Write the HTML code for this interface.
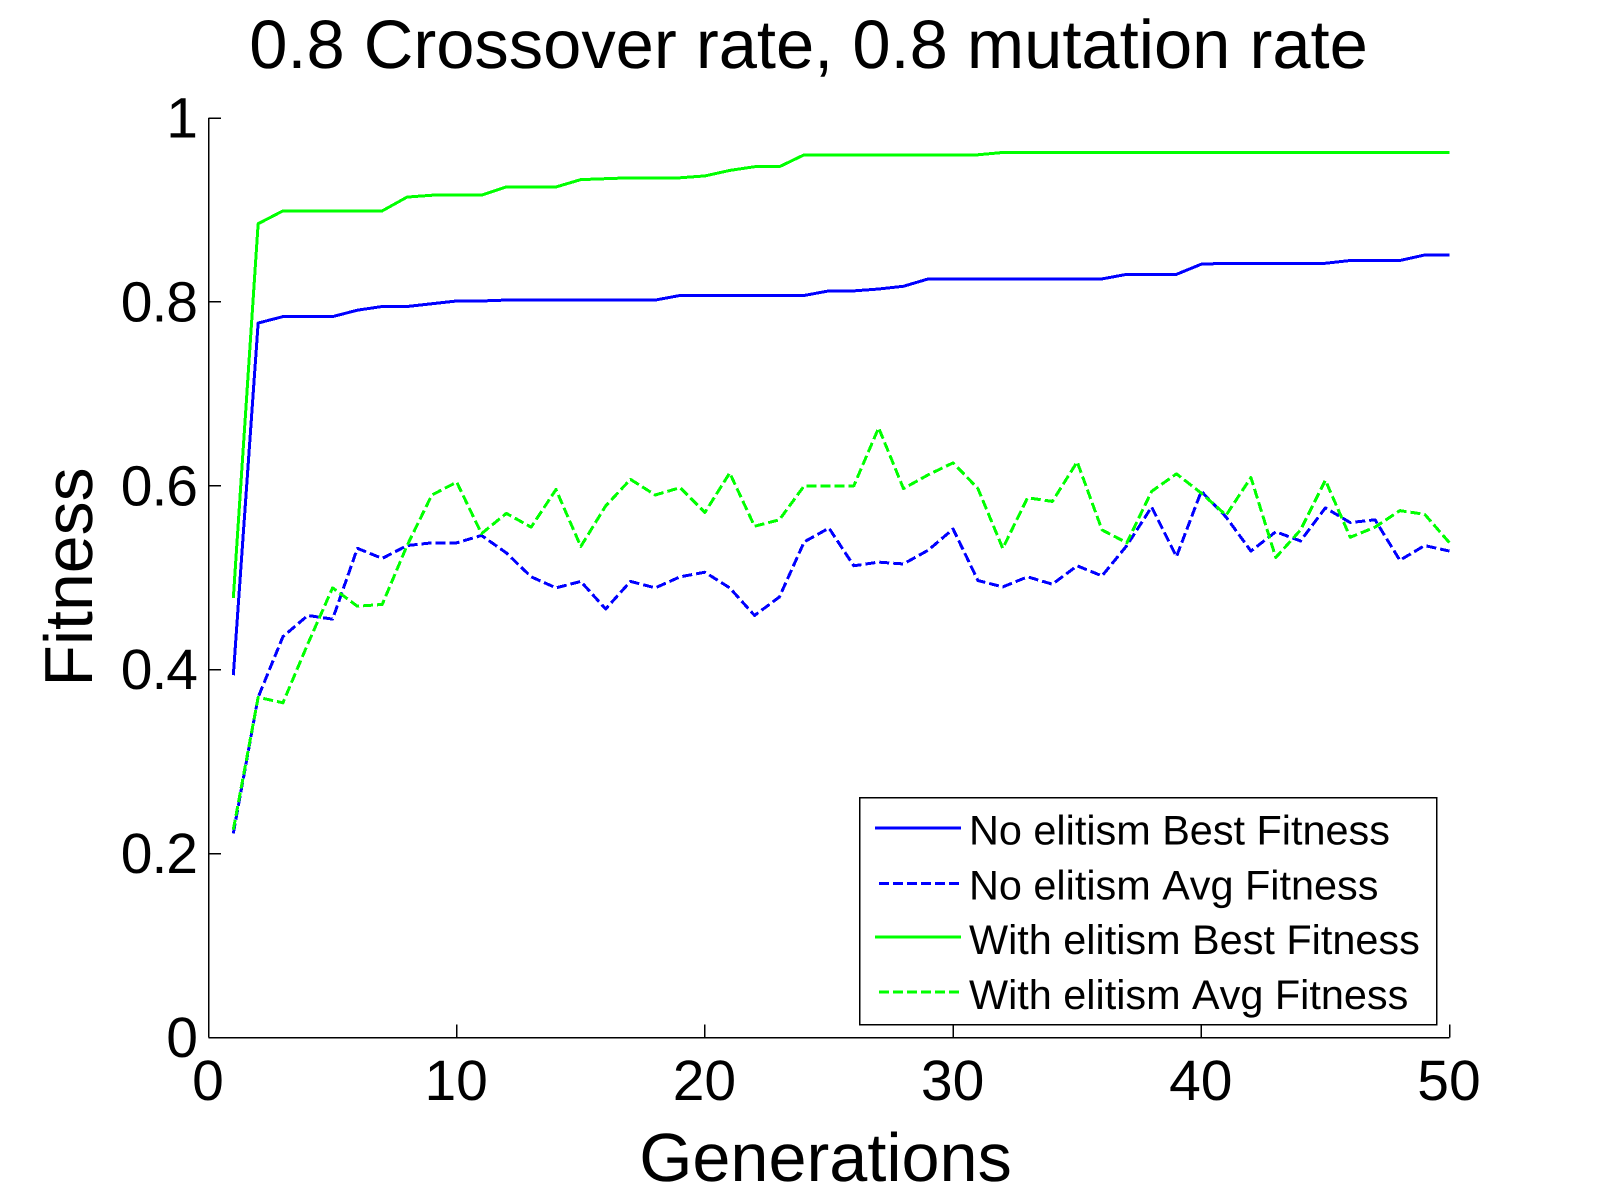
<!DOCTYPE html>
<html lang="en">
<head>
<meta charset="utf-8">
<title>0.8 Crossover rate, 0.8 mutation rate</title>
<style>
  html, body { margin: 0; padding: 0; background: #fff; }
  svg { display: block; }
  text { font-family: "Liberation Sans", Arial, sans-serif; fill: #000; font-kerning: none; text-rendering: geometricPrecision; }
</style>
</head>
<body>
<svg id="chart" xmlns="http://www.w3.org/2000/svg" width="1601" height="1201" viewBox="0 0 1601 1201">
  <rect x="0" y="0" width="1601" height="1201" fill="#fff"/>
  <text x="808.5" y="68" font-size="68.7" text-anchor="middle">0.8 Crossover rate, 0.8 mutation rate</text>
  <text x="825.5" y="1181" font-size="68.4" text-anchor="middle">Generations</text>
  <text transform="translate(92 577) rotate(-90)" x="0" y="0" font-size="68" text-anchor="middle">Fitness</text>
  <g id="series-layer"></g>
  <g id="axes-layer"></g>
  <g>
    <rect x="859.5" y="797.5" width="577" height="227" fill="#fff" stroke="#000" stroke-width="1.5" shape-rendering="crispEdges"/>
    <line x1="875" y1="828" x2="961" y2="828" stroke="#0000ff" stroke-width="3" shape-rendering="crispEdges"/>
    <text x="969" y="844.5" font-size="41.4">No elitism Best Fitness</text>
    <line x1="879" y1="883.5" x2="960" y2="883.5" stroke="#0000ff" stroke-width="3" stroke-dasharray="10 4" shape-rendering="crispEdges"/>
    <text x="969" y="899.5" font-size="41.4">No elitism Avg Fitness</text>
    <line x1="875" y1="937" x2="961" y2="937" stroke="#00ff00" stroke-width="3" shape-rendering="crispEdges"/>
    <text x="969" y="954" font-size="41.4">With elitism Best Fitness</text>
    <line x1="879" y1="992" x2="960" y2="992" stroke="#00ff00" stroke-width="3" stroke-dasharray="10 4" shape-rendering="crispEdges"/>
    <text x="969" y="1009" font-size="41.4">With elitism Avg Fitness</text>
  </g>
</svg>
<script>
const generations = [1,2,3,4,5,6,7,8,9,10,11,12,13,14,15,16,17,18,19,20,21,22,23,24,25,26,27,28,29,30,31,32,33,34,35,36,37,38,39,40,41,42,43,44,45,46,47,48,49,50];
const noElitismBest = [0.394,0.777,0.784,0.784,0.784,0.791,0.795,0.795,0.798,0.801,0.801,0.802,0.802,0.802,0.802,0.802,0.802,0.802,0.807,0.807,0.807,0.807,0.807,0.807,0.812,0.812,0.814,0.817,0.825,0.825,0.825,0.825,0.825,0.825,0.825,0.825,0.830,0.830,0.830,0.841,0.842,0.842,0.842,0.842,0.842,0.845,0.845,0.845,0.851,0.851];
const noElitismAvg = [0.222,0.370,0.436,0.459,0.455,0.532,0.521,0.535,0.538,0.538,0.546,0.527,0.501,0.489,0.496,0.466,0.496,0.489,0.501,0.506,0.489,0.459,0.479,0.539,0.554,0.513,0.517,0.515,0.530,0.553,0.497,0.490,0.501,0.493,0.513,0.502,0.535,0.577,0.523,0.594,0.566,0.529,0.550,0.540,0.576,0.560,0.563,0.519,0.535,0.529];
const withElitismBest = [0.478,0.885,0.899,0.899,0.899,0.899,0.899,0.914,0.916,0.916,0.916,0.925,0.925,0.925,0.933,0.934,0.935,0.935,0.935,0.937,0.943,0.947,0.947,0.960,0.960,0.960,0.960,0.960,0.960,0.960,0.960,0.9625,0.9625,0.9625,0.9625,0.9625,0.9625,0.9625,0.9625,0.9625,0.9625,0.9625,0.9625,0.9625,0.9625,0.9625,0.9625,0.9625,0.9625,0.9625];
const withElitismAvg = [0.226,0.370,0.364,0.428,0.489,0.469,0.471,0.535,0.590,0.604,0.548,0.570,0.555,0.596,0.534,0.578,0.607,0.590,0.598,0.571,0.614,0.556,0.563,0.600,0.600,0.600,0.663,0.597,0.612,0.625,0.597,0.532,0.587,0.583,0.626,0.552,0.538,0.594,0.613,0.592,0.568,0.609,0.522,0.552,0.606,0.544,0.555,0.573,0.569,0.538];
const xTickValues = [0,10,20,30,40,50];
const xTickLabels = ["0","10","20","30","40","50"];
const yTickValues = [0,0.2,0.4,0.6,0.8,1];
const yTickLabels = ["0","0.2","0.4","0.6","0.8","1"];

const SVG_NS = "http://www.w3.org/2000/svg";
const plotLeft = 208.5, plotRight = 1449.5, plotTop = 118, plotBottom = 1037.5;
const xMin = 0, xMax = 50, yMin = 0, yMax = 1;

function xScale(v) { return plotLeft + (v - xMin) / (xMax - xMin) * (plotRight - plotLeft); }
function yScale(v) { return plotBottom - (v - yMin) / (yMax - yMin) * (plotBottom - plotTop); }

function pointsFor(values) {
  return values.map(function (v, i) { return xScale(generations[i]).toFixed(2) + "," + yScale(v).toFixed(2); }).join(" ");
}

const seriesLayer = document.getElementById("series-layer");
const axesLayer = document.getElementById("axes-layer");

function drawSeries(values, color, dashed) {
  const el = document.createElementNS(SVG_NS, "polyline");
  el.setAttribute("points", pointsFor(values));
  el.setAttribute("fill", "none");
  el.setAttribute("stroke", color);
  el.setAttribute("stroke-width", "3");
  el.setAttribute("stroke-linejoin", "round");
  el.setAttribute("shape-rendering", "crispEdges");
  if (dashed) { el.setAttribute("stroke-dasharray", "10 4"); }
  seriesLayer.appendChild(el);
  return el;
}

const lineNoBest = drawSeries(noElitismBest, "#0000ff", false);


const lineNoAvg = drawSeries(noElitismAvg, "#0000ff", true);


const lineWithBest = drawSeries(withElitismBest, "#00ff00", false);


const lineWithAvg = drawSeries(withElitismAvg, "#00ff00", true);



function drawSegment(x1, y1, x2, y2) {
  const el = document.createElementNS(SVG_NS, "line");
  el.setAttribute("x1", x1);
  el.setAttribute("y1", y1);
  el.setAttribute("x2", x2);
  el.setAttribute("y2", y2);
  el.setAttribute("stroke", "#000");
  el.setAttribute("stroke-width", "1.5");
  el.setAttribute("shape-rendering", "crispEdges");
  axesLayer.appendChild(el);
  return el;
}

function drawLabel(x, y, anchor, content) {
  const el = document.createElementNS(SVG_NS, "text");
  el.setAttribute("x", x);
  el.setAttribute("y", y);
  el.setAttribute("font-size", "57");
  el.setAttribute("text-anchor", anchor);
  el.textContent = content;
  axesLayer.appendChild(el);
  return el;
}

const xAxisLine = drawSegment(plotLeft, plotBottom, plotRight, plotBottom);


const yAxisLine = drawSegment(plotLeft, plotTop, plotLeft, plotBottom);



xTickValues.forEach(function (v, i) {
  const x = xScale(v);
  const tick = drawSegment(x, plotBottom, x, plotBottom - 13);
  
  
  const label = drawLabel(x - 0.5, 1100, "middle", xTickLabels[i]);
  
  
});

yTickValues.forEach(function (v, i) {
  const y = yScale(v);
  const tick = drawSegment(plotLeft, y, plotLeft + 12.5, y);
  
  
  const label = drawLabel(197, y + 19.5, "end", yTickLabels[i]);
  label.setAttribute("letter-spacing", "-1");
  
  
});
</script>
</body>
</html>
